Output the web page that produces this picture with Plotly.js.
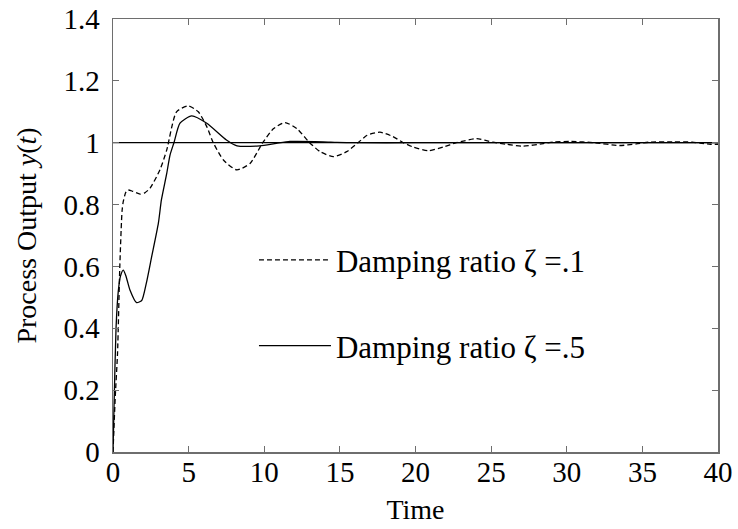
<!DOCTYPE html>
<html>
<head>
<meta charset="utf-8">
<script src="https://cdn.plot.ly/plotly-3.0.1.min.js"></script>
<style>html,body{margin:0;padding:0;background:#fff;}#chart{width:738px;height:529px;}</style>
</head>
<body>
<div id="chart"></div>
<script>
// Damping ratio 0.1 (dashed)
const tLow = [0, 0.15, 0.3, 0.45, 0.6, 0.68, 0.85, 1.0, 1.3, 1.79, 2.1, 2.45, 3.1, 3.55, 4.2, 4.98, 5.64, 6.2, 6.63, 7.3, 8.18, 9.06, 9.9, 10.6, 11.37, 12.15, 13.0, 13.7, 14.57, 15.45, 16.2, 16.8, 17.65, 18.5, 19.2, 19.85, 20.85, 21.84, 22.7, 24.05, 25.1, 26.0, 27.1, 28.45, 29.1, 30.3, 31.8, 33.5, 34.6, 35.5, 37.0, 38.3, 38.8, 39.5, 40];
const yLow = [0, 0.18, 0.32, 0.6, 0.78, 0.81, 0.84, 0.847, 0.843, 0.834, 0.838, 0.853, 0.912, 0.976, 1.1, 1.119, 1.1, 1.052, 1.0, 0.944, 0.912, 0.933, 1.0, 1.045, 1.065, 1.046, 1.0, 0.971, 0.955, 0.971, 1.0, 1.024, 1.034, 1.02, 1.0, 0.986, 0.974, 0.986, 1.0, 1.013, 1.002, 0.995, 0.989, 0.997, 1.002, 1.004, 1.0, 0.991, 0.996, 1.002, 1.003, 1.002, 0.999, 0.995, 0.995];

// Damping ratio 0.5 (solid)
const tHigh = [0, 0.07, 0.2, 0.35, 0.5, 0.68, 0.85, 1.12, 1.56, 1.9, 2.2, 2.55, 3.0, 3.2, 3.55, 3.77, 4.03, 4.43, 5.2, 6.2, 7.5, 8.2, 9.7, 10.8, 11.7, 13.9, 14.8, 16, 20, 25, 30, 35, 40];
const yHigh = [0, 0.15, 0.4, 0.52, 0.57, 0.588, 0.57, 0.524, 0.483, 0.49, 0.545, 0.63, 0.74, 0.815, 0.9, 0.96, 1.0, 1.063, 1.087, 1.063, 1.009, 0.99, 0.99, 0.998, 1.004, 1.003, 1.001, 1.0, 1.0, 1.0, 1.0, 1.0, 1.0];

// Setpoint reference
const tRef = [0, 40];
const yRef = [1, 1];

const names = ["Damping ratio \u03b6 =.1", "Damping ratio \u03b6 =.5"];
const xTicks = [0, 5, 10, 15, 20, 25, 30, 35, 40];
const yTicks = [0, 0.2, 0.4, 0.6, 0.8, 1, 1.2, 1.4];

const FONT = "Liberation Serif, Times New Roman, serif";

const traces = [
  {x: tRef, y: yRef, mode: "lines", line: {color: "#000", width: 1.3}, showlegend: false, hoverinfo: "skip"},
  {x: tLow, y: yLow, mode: "lines", name: names[0], line: {color: "#000", width: 1.3, dash: "5px,3px", shape: "spline", smoothing: 0.6}, legend: "legend"},
  {x: tHigh, y: yHigh, mode: "lines", name: names[1], line: {color: "#000", width: 1.3, shape: "spline", smoothing: 0.6}, legend: "legend2"}
];

const axisCommon = {
  showgrid: false, zeroline: false, showline: true, linecolor: "#6e6e6e", linewidth: 1.5,
  ticks: "inside", ticklen: 6, tickcolor: "#6e6e6e", tickwidth: 1, mirror: "ticks",
  tickfont: {family: FONT, size: 29, color: "#000"}
};

const legendCommon = {
  font: {family: FONT, size: 31, color: "#000"},
  bgcolor: "rgba(0,0,0,0)", borderwidth: 0, itemwidth: 72,
  xref: "paper", yref: "paper", xanchor: "left", yanchor: "middle"
};

const layout = {
  width: 738, height: 529,
  margin: {l: 113, r: 20, t: 19, b: 77},
  paper_bgcolor: "#fff", plot_bgcolor: "#fff",
  font: {family: FONT, size: 28, color: "#000"},
  xaxis: Object.assign({}, axisCommon, {
    range: [0, 40], tickvals: xTicks,
    ticklabelstandoff: -6,
    title: {text: "Time", font: {family: FONT, size: 28, color: "#000"}, standoff: 12}
  }),
  yaxis: Object.assign({}, axisCommon, {
    range: [0, 1.4], tickvals: yTicks,
    ticklabelstandoff: 6,
    title: {text: "Process Output <i>y</i>(<i>t</i>)", font: {family: FONT, size: 28, color: "#000"}, standoff: 18}
  }),
  legend: Object.assign({}, legendCommon, {x: 0.233, y: 0.443}),
  legend2: Object.assign({}, legendCommon, {x: 0.233, y: 0.245}),
  showlegend: true
};

Plotly.newPlot("chart", traces, layout, {displayModeBar: false, staticPlot: true});
</script>
</body>
</html>
